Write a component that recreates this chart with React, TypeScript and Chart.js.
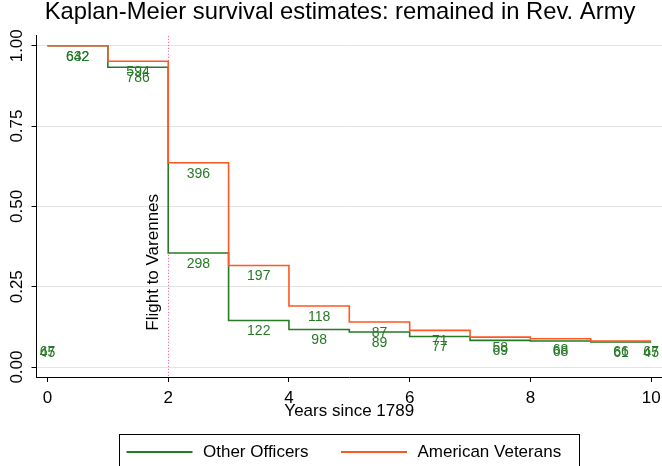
import React, { useEffect, useRef } from 'react';
import { Chart, registerables } from 'chart.js';

Chart.register(...registerables);

const FONT = '"Liberation Sans", Arial, Helvetica, sans-serif';
const GREEN = '#267a26';
const ORANGE = '#ff5722';
const PINK = '#f2508e';

const titleText = 'Kaplan-Meier survival estimates: remained in Rev. Army';
const xAxisTitle = 'Years since 1789';

// step times and survival estimates
const years = [0, 1, 2, 3, 4, 5, 6, 7, 8, 9, 10];
const otherOfficers = [1, 0.933, 0.355, 0.145, 0.117, 0.109, 0.095, 0.083, 0.081, 0.078, 0.078];
const americanVeterans = [1, 0.952, 0.636, 0.316, 0.19, 0.14, 0.114, 0.093, 0.088, 0.081, 0.081];

// number-at-risk labels, at the middle of each interval
const intervalMidYears = [0.5, 1.5, 2.5, 3.5, 4.5, 5.5, 6.5, 7.5, 8.5, 9.5];
const otherOfficersAtRisk = ['632', '786', '298', '122', '98', '89', '77', '69', '68', '61'];
const americanVeteransAtRisk = ['642', '594', '396', '197', '118', '87', '71', '58', '68', '66'];
// labels at the ends of the range (drawn at final level)
const edgeYears = [0, 10];
const otherOfficersEdge = ['45', '45'];
const americanVeteransEdge = ['67', '67'];

// event marker
const eventYears = [2];
const eventLabels = ['Flight to Varennes'];
const eventLabelLevel = [0.326];

const xTicks = [0, 2, 4, 6, 8, 10];
const xTickLabels = ['0', '2', '4', '6', '8', '10'];
const yTicks = [0, 0.25, 0.5, 0.75, 1];
const yTickLabels = ['0.00', '0.25', '0.50', '0.75', '1.00'];

const seriesNames = ['Other Officers', 'American Veterans'];

const overlayPlugin = {
  id: 'kmOverlay',
  beforeDatasetsDraw(chart: any) {
    const { ctx, chartArea, scales } = chart;
    const xs = scales.x;
    ctx.save();
    ctx.strokeStyle = PINK;
    ctx.lineWidth = 1;
    ctx.setLineDash([1, 2]);
    eventYears.forEach((ey) => {
      const px = Math.round(xs.getPixelForValue(ey)) + 0.5;
      ctx.beginPath();
      ctx.moveTo(px, chartArea.top);
      ctx.lineTo(px, chartArea.bottom);
      ctx.stroke();
    });
    ctx.restore();
  },
  afterDatasetsDraw(chart: any) {
    const { ctx, scales } = chart;
    const xs = scales.x;
    const ys = scales.y;
    ctx.save();
    // at-risk numbers
    ctx.font = `14px ${FONT}`;
    ctx.fillStyle = GREEN;
    ctx.textAlign = 'center';
    ctx.textBaseline = 'middle';
    const drawSet = (vals: number[], labels: string[], edge: string[]) => {
      intervalMidYears.forEach((t, i) => {
        const px = xs.getPixelForValue(t);
        const py = ys.getPixelForValue(vals[i]) + 11;
        ctx.fillText(labels[i], px, py);
      });
      edgeYears.forEach((t, i) => {
        const px = xs.getPixelForValue(t);
        const py = ys.getPixelForValue(vals[vals.length - 1]) + 11;
        ctx.fillText(edge[i], px, py);
      });
    };
    drawSet(otherOfficers, otherOfficersAtRisk, otherOfficersEdge);
    drawSet(americanVeterans, americanVeteransAtRisk, americanVeteransEdge);

    // event label
    ctx.font = `17px ${FONT}`;
    ctx.fillStyle = '#000';
    eventYears.forEach((ey, i) => {
      const px = xs.getPixelForValue(ey) - 15;
      const py = ys.getPixelForValue(eventLabelLevel[i]);
      ctx.save();
      ctx.translate(px, py);
      ctx.rotate(-Math.PI / 2);
      ctx.fillText(eventLabels[i], 0, 0);
      ctx.restore();
    });
    ctx.restore();
  },
  afterDraw(chart: any) {
    const { ctx, scales } = chart;
    const ys = scales.y;
    ctx.save();
    // rotated y tick labels
    ctx.font = `17px ${FONT}`;
    ctx.fillStyle = '#000';
    ctx.textAlign = 'center';
    ctx.textBaseline = 'middle';
    yTicks.forEach((v, i) => {
      const py = ys.getPixelForValue(v);
      ctx.save();
      ctx.translate(17.5, py);
      ctx.rotate(-Math.PI / 2);
      ctx.fillText(yTickLabels[i], 0, 0);
      ctx.restore();
    });

    // legend box
    ctx.strokeStyle = '#000';
    ctx.lineWidth = 1;
    ctx.strokeRect(119.5, 434.5, 460, 40);
    const items = chart.data.datasets.map((d: any) => ({ label: d.label, color: d.borderColor }));
    const lx = [126.5, 341];
    items.forEach((it: any, i: number) => {
      ctx.strokeStyle = it.color;
      ctx.lineWidth = 2;
      ctx.beginPath();
      ctx.moveTo(lx[i], 452);
      ctx.lineTo(lx[i] + 66, 452);
      ctx.stroke();
      ctx.fillStyle = '#000';
      ctx.textAlign = 'left';
      ctx.font = `17px ${FONT}`;
      ctx.fillText(it.label, lx[i] + 76.5, 452);
    });
    ctx.restore();
  },
};

export default function App() {
  const ref = useRef<HTMLCanvasElement | null>(null);
  useEffect(() => {
    document.body.style.margin = '0';
    const canvas = ref.current;
    if (!canvas) return;
    const chart = new Chart(canvas, {
      type: 'line',
      data: {
        datasets: [
          {
            label: seriesNames[0],
            data: years.map((x, i) => ({ x, y: otherOfficers[i] })),
            borderColor: GREEN,
            backgroundColor: GREEN,
            borderWidth: 1.6,
            stepped: 'before',
            pointRadius: 0,
            fill: false,
            order: 1,
          },
          {
            label: seriesNames[1],
            data: years.map((x, i) => ({ x, y: americanVeterans[i] })),
            borderColor: ORANGE,
            backgroundColor: ORANGE,
            borderWidth: 1.6,
            stepped: 'before',
            pointRadius: 0,
            fill: false,
            order: 0,
          },
        ],
      },
      options: {
        animation: false,
        responsive: false,
        devicePixelRatio: 1,
        layout: { padding: { left: 18, right: 0, top: 0, bottom: 0 } },
        plugins: {
          legend: { display: false },
          tooltip: { enabled: false },
          title: {
            display: true,
            text: titleText,
            color: '#000',
            font: { family: FONT, size: 23.8, weight: 'normal', lineHeight: 1 },
            padding: { top: 1, bottom: 11 },
          },
        },
        scales: {
          x: {
            type: 'linear',
            min: -0.182,
            max: 10.18,
            afterBuildTicks: (s: any) => {
              s.ticks = xTicks.map((v) => ({ value: v }));
            },
            afterFit: (s: any) => {
              s.height = 89;
              s.paddingLeft = 0;
              s.paddingRight = 0;
            },
            ticks: {
              color: '#000',
              font: { family: FONT, size: 17 },
              padding: 6,
              maxRotation: 0,
              autoSkip: false,
              callback: (v: any) => xTickLabels[xTicks.indexOf(Number(v))] ?? '',
            },
            grid: { drawOnChartArea: false, tickLength: 5, tickColor: '#000', color: '#000' },
            border: { display: true, color: '#000', width: 1 },
            title: {
              display: true,
              text: xAxisTitle,
              color: '#000',
              font: { family: FONT, size: 17 },
              padding: { top: 0, bottom: 44 },
            },
          },
          y: {
            type: 'linear',
            min: -0.031,
            max: 1.031,
            afterBuildTicks: (s: any) => {
              s.ticks = yTicks.map((v) => ({ value: v }));
            },
            afterFit: (s: any) => {
              s.width = 18.5;
              s.paddingTop = 0;
              s.paddingBottom = 0;
            },
            ticks: { display: false },
            grid: { color: '#e3e3e3', lineWidth: 1, tickLength: 5, tickColor: '#000' },
            border: { display: true, color: '#000', width: 1 },
          },
        },
      },
      plugins: [overlayPlugin],
    } as any);
    return () => chart.destroy();
  }, []);
  return (
    <div style={{ width: 662, height: 466, background: '#fff' }}>
      <canvas ref={ref} width={662} height={466} style={{ display: 'block' }} />
    </div>
  );
}
